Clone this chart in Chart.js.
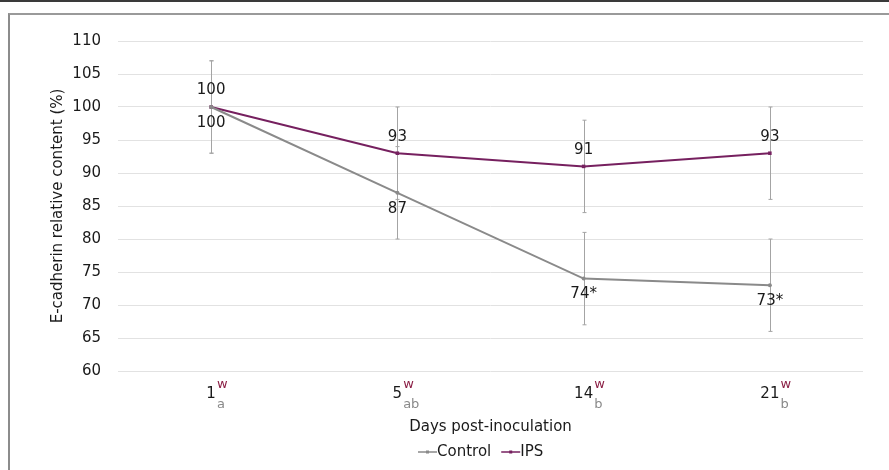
<!DOCTYPE html>
<html>
<head>
<meta charset="utf-8">
<script src="https://cdn.jsdelivr.net/npm/chart.js@4/dist/chart.umd.min.js"></script>
<style>
  html, body { margin: 0; padding: 0; background: #fff; }
  #wrap { position: relative; width: 889px; height: 470px; overflow: hidden; }
  .frame-top { position: absolute; left: 0; top: 0; width: 889px; height: 2px; background: #3a3a3a; }
  .frame-inner { position: absolute; left: 8px; top: 13px; width: 900px; height: 480px;
                 border-top: 2px solid #9a9a9a; border-left: 2px solid #8c8c8c; box-sizing: border-box; }
  canvas { position: absolute; left: 0; top: 0; }
</style>
</head>
<body>
<div id="wrap">
  <div class="frame-top"></div>
  <div class="frame-inner"></div>
  <canvas id="chart" width="889" height="470"></canvas>
</div>
<script>
// Days post-inoculation and the letter groups shown beside each day
const days = ['1', '5', '14', '21'];
const supMarks = ['w', 'w', 'w', 'w'];
const subMarks = ['a', 'ab', 'b', 'b'];

// E-cadherin relative content (%)
const controlValues = [100, 87, 74, 73];
const ipsValues = [100, 93, 91, 93];

// error bar half-widths
const controlErr = [7, 7, 7, 7];
const ipsErr = [7, 7, 7, 7];

// value labels printed next to the points
const controlLabels = ['100', '87', '74*', '73*'];
const ipsLabels = ['100', '93', '91', '93'];

// y axis range
const yMin = 60;
const yMax = 110;
const yStep = 5;

const FONT = '"DejaVu Sans", sans-serif';
const TEXT = '#1a1a1a';
const IPS_COLOR = '#76205f';
const CONTROL_COLOR = '#8a8a8a';
const ERR_COLOR = '#a4a4a4';
const SUP_COLOR = '#8b1f45';
const SUB_COLOR = '#8a8a8a';

const series = [
  { label: 'Control', values: controlValues, err: controlErr, labels: controlLabels, color: CONTROL_COLOR, above: false },
  { label: 'IPS', values: ipsValues, err: ipsErr, labels: ipsLabels, color: IPS_COLOR, above: true }
];

const annotations = {
  id: 'annotations',
  beforeDatasetsDraw(chart) {
    const { ctx, scales: { x, y } } = chart;
    ctx.save();
    ctx.strokeStyle = ERR_COLOR;
    ctx.lineWidth = 1;
    series.forEach(s => {
      s.values.forEach((v, i) => {
        const px = Math.round(x.getPixelForValue(i)) + 0.5;
        const top = y.getPixelForValue(v + s.err[i]);
        const bot = y.getPixelForValue(v - s.err[i]);
        ctx.beginPath();
        ctx.moveTo(px, top); ctx.lineTo(px, bot);
        ctx.moveTo(px - 2, top); ctx.lineTo(px + 2, top);
        ctx.moveTo(px - 2, bot); ctx.lineTo(px + 2, bot);
        ctx.stroke();
      });
    });
    ctx.restore();
  },
  afterDatasetsDraw(chart) {
    const { ctx } = chart;
    ctx.save();
    ctx.font = '15px ' + FONT;
    ctx.fillStyle = TEXT;
    ctx.textAlign = 'center';
    ctx.textBaseline = 'middle';
    series.forEach((s, di) => {
      const meta = chart.getDatasetMeta(di);
      meta.data.forEach((pt, i) => {
        const dy = s.above ? -16.5 : 16;
        ctx.fillText(s.labels[i], pt.x, pt.y + dy);
      });
    });
    ctx.restore();
  },
  afterDraw(chart) {
    const { ctx, scales: { x } } = chart;
    ctx.save();
    ctx.textBaseline = 'alphabetic';
    // day labels with superscript / subscript letter groups
    days.forEach((d, i) => {
      const px = x.getPixelForValue(i);
      ctx.font = '15px ' + FONT;
      ctx.fillStyle = TEXT;
      ctx.textAlign = 'center';
      ctx.fillText(d, px, 398);
      const w = ctx.measureText(d).width;
      ctx.textAlign = 'left';
      ctx.font = '13px ' + FONT;
      ctx.fillStyle = SUP_COLOR;
      ctx.fillText(supMarks[i], px + w / 2 + 1, 388);
      ctx.fillStyle = SUB_COLOR;
      ctx.fillText(subMarks[i], px + w / 2 + 1, 408);
    });
    // x axis title
    ctx.font = '15px ' + FONT;
    ctx.fillStyle = TEXT;
    ctx.textAlign = 'center';
    ctx.textBaseline = 'middle';
    const area = chart.chartArea;
    ctx.fillText('Days post-inoculation', (area.left + area.right) / 2, 427);
    // legend
    let lx = 418;
    const ly = 452;
    ctx.textAlign = 'left';
    series.forEach(s => {
      ctx.strokeStyle = s.color;
      ctx.lineWidth = 1.5;
      ctx.beginPath();
      ctx.moveTo(lx, ly); ctx.lineTo(lx + 19, ly);
      ctx.stroke();
      ctx.fillStyle = s.color;
      ctx.fillRect(lx + 8, ly - 1.5, 3, 3);
      ctx.fillStyle = TEXT;
      ctx.fillText(s.label, lx + 19, ly);
      lx += 19 + ctx.measureText(s.label).width + 10;
    });
    ctx.restore();
  }
};

new Chart(document.getElementById('chart'), {
  type: 'line',
  data: {
    labels: days,
    datasets: [
      {
        label: 'Control',
        data: controlValues,
        borderColor: CONTROL_COLOR,
        backgroundColor: CONTROL_COLOR,
        borderWidth: 2,
        pointStyle: 'circle',
        pointRadius: 2,
        pointBorderWidth: 0,
        tension: 0
      },
      {
        label: 'IPS',
        data: ipsValues,
        borderColor: IPS_COLOR,
        backgroundColor: IPS_COLOR,
        borderWidth: 2,
        pointStyle: 'rect',
        pointRadius: 2.5,
        pointBorderWidth: 0,
        tension: 0
      }
    ]
  },
  options: {
    responsive: false,
    animation: false,
    layout: { padding: { left: 0, top: 41, right: 26, bottom: 99 } },
    plugins: {
      legend: { display: false },
      tooltip: { enabled: false }
    },
    scales: {
      x: {
        offset: true,
        grid: { display: false },
        border: { display: false },
        ticks: { display: false },
        afterFit(scale) { scale.height = 0; }
      },
      y: {
        min: yMin,
        max: yMax,
        ticks: {
          stepSize: yStep,
          padding: 17,
          color: TEXT,
          font: { family: FONT, size: 15 }
        },
        grid: { color: '#e2e2e2', lineWidth: 1, drawTicks: false },
        border: { display: false },
        title: {
          display: true,
          text: 'E-cadherin relative content (%)',
          color: TEXT,
          font: { family: FONT, size: 15 },
          padding: { top: 49, bottom: 0 }
        },
        afterFit(scale) { scale.width = 118; }
      }
    }
  },
  plugins: [annotations]
});
</script>
</body>
</html>
